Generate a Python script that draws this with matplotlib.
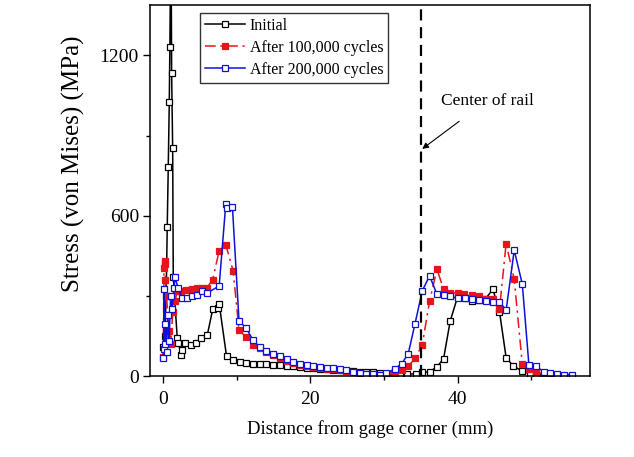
import matplotlib
matplotlib.use('Agg')
import matplotlib.pyplot as plt
from matplotlib.ticker import MultipleLocator

plt.rcParams['font.family'] = ['Liberation Serif', 'DejaVu Serif']

# Initial
x_init = [0.0, 0.2, 0.4, 0.54, 0.68, 0.82, 0.9, 1.05, 1.14, 1.28, 1.36, 1.9, 2.04, 2.45, 2.5,
          2.95, 3.73, 4.45, 5.08, 5.99, 6.72, 7.48, 7.6, 8.6, 9.5, 10.4, 11.3, 12.2, 13.1,
          14.0, 14.9, 15.9, 16.8, 17.7, 18.6, 19.5, 20.4, 21.3, 22.2, 23.1, 24.0, 24.9, 25.8,
          26.7, 27.6, 28.5, 29.4, 30.4, 31.3, 32.2, 33.1, 34.3, 35.2, 36.2, 37.2, 38.1, 39.0,
          40.0, 41.0, 42.0, 42.9, 43.8, 44.8, 45.7, 46.6, 47.6, 48.8, 49.8, 50.7, 51.7]
y_init = [110, 150, 300, 556, 781, 1027, 1231, 1700, 1134, 852, 371, 144, 125, 79, 96,
          125, 116, 125, 144, 154, 250, 256, 271, 75, 62, 54, 50, 46, 44,
          44, 42, 40, 38, 36, 34, 32, 30, 28, 26, 24, 22, 20, 18,
          17, 15, 14, 12, 8, 8, 8, 8, 8, 14, 16, 35, 65, 206,
          296, 291, 281, 285, 289, 325, 241, 69, 37, 19, 8, 6, 5]

# After 100,000 cycles
x_100k = [0.0, 0.1, 0.2, 0.25, 0.3, 0.45, 0.6, 0.8, 1.0, 1.3, 1.6, 1.9, 2.4, 3.1, 3.9,
          4.6, 5.2, 5.9, 6.7, 7.6, 8.5, 9.5, 10.3, 11.3, 12.2, 13.1,
          14.0, 14.9, 15.9, 16.8, 17.7, 18.6, 19.5, 20.4, 21.3, 22.2, 23.1, 24.0, 24.9, 25.8,
          26.7, 27.6, 28.5, 29.4, 30.6, 31.5, 32.4, 33.3, 34.2, 35.2, 36.2, 37.2, 38.1, 39.0,
          40.0, 40.9, 42.0, 42.9, 43.8, 44.8, 45.7, 46.6, 47.7, 48.8, 49.7, 50.7, 51.7, 52.6]
y_100k = [70, 405, 430, 420, 360, 300, 230, 170, 120, 240, 281, 318, 320, 321, 325,
          328, 330, 331, 359, 469, 491, 394, 171, 146, 116, 104,
          90, 80, 68, 58, 50, 43, 38, 34, 31, 28, 25, 22, 19, 15,
          12, 9, 7, 5, 8, 12, 21, 37, 66, 116, 281, 400, 325, 311,
          312, 307, 302, 298, 289, 289, 250, 496, 362, 44, 25, 16, 8, 5]

# After 200,000 cycles
x_200k = [0.0, 0.05, 0.1, 0.2, 0.3, 0.45, 0.6, 0.8, 1.0, 1.2, 1.46, 1.6, 2.0, 2.5, 3.2,
          3.9, 4.6, 5.2, 6.0, 7.6, 8.5, 8.6, 9.4, 10.3, 11.3, 12.2, 13.1,
          14.0, 14.9, 15.9, 16.8, 17.7, 18.6, 19.5, 20.4, 21.3, 22.2, 23.1, 24.0, 24.9, 25.8,
          26.7, 27.6, 28.5, 29.4, 30.3, 31.5, 32.4, 33.3, 34.2, 35.2, 36.2, 37.2, 38.1, 39.0,
          40.0, 41.0, 42.0, 42.9, 43.8, 44.8, 45.7, 46.6, 47.7, 48.8, 49.7, 50.7, 51.7, 52.6,
          53.5, 54.5, 55.5]
y_200k = [69, 100, 325, 120, 194, 90, 230, 130, 300, 250, 331, 369, 331, 294, 294,
          300, 304, 319, 312, 337, 644, 630, 634, 206, 179, 134, 109,
          94, 84, 75, 64, 54, 47, 41, 37, 34, 31, 29, 25, 21, 17,
          12, 9, 8, 6, 10, 28, 46, 84, 194, 319, 375, 306, 302, 298,
          291, 294, 289, 285, 281, 279, 279, 246, 471, 344, 41, 37, 16, 12,
          8, 6, 6]

center_x = 35.0

fig = plt.figure(figsize=(6.34, 4.57), dpi=100)
ax = fig.add_axes([0.2366, 0.177, 0.694, 0.813])

ax.plot(x_init, y_init, color='black', lw=1.1, marker='s', ms=4.2,
        mfc='white', mec='black', mew=0.9, label='Initial')
ax.plot(x_100k, y_100k, color='#e8141c', lw=1.1, ls=(0, (7, 3, 1.5, 3)), marker='s', ms=4.5,
        mfc='#e8141c', mec='#e8141c', mew=0.9, label='After 100,000 cycles')
ax.plot(x_200k, y_200k, color='#1010d8', lw=1.1, marker='s', ms=4.2,
        mfc='white', mec='#1010d8', mew=0.9, label='After 200,000 cycles')

ax.plot([center_x, center_x], [0, 1390], color='black', lw=1.6, ls=(0, (5, 3)))
ax.annotate('Center of rail', xy=(35.2, 850), xytext=(44.0, 1031),
            ha='center', va='center', fontsize=12.5,
            arrowprops=dict(arrowstyle='-|>', color='black', lw=0.8,
                            mutation_scale=9, shrinkA=12, shrinkB=0))

ax.set_xlim(-1.8, 58)
ax.set_ylim(0, 1390)
ax.xaxis.set_major_locator(MultipleLocator(20))
ax.xaxis.set_minor_locator(MultipleLocator(10))
ax.yaxis.set_major_locator(MultipleLocator(600))
ax.yaxis.set_minor_locator(MultipleLocator(300))
ax.tick_params(which='major', direction='out', length=5, width=1, labelsize=14)
ax.tick_params(which='minor', direction='out', length=3, width=1)
ax.tick_params(axis='x', which='major', pad=6)
ax.tick_params(axis='y', which='major', pad=3)
for s in ax.spines.values():
    s.set_linewidth(1.1)

ax.set_xlabel('Distance from gage corner (mm)', fontsize=13.5)
ax.set_ylabel('Stress (von Mises) (MPa)', fontsize=18)
ax.yaxis.set_label_coords(-0.148, 0.571)
ax.xaxis.set_label_coords(0.5, -0.118)

leg = ax.legend(loc='upper left', bbox_to_anchor=(0.114, 0.977), borderaxespad=0,
                fontsize=11.5, frameon=True, fancybox=False, handlelength=2.5,
                handletextpad=0.3, labelspacing=0.38, borderpad=0.3)
leg.get_frame().set_edgecolor('black')
leg.get_frame().set_linewidth(1.0)

fig.savefig('out.png', dpi=100)
